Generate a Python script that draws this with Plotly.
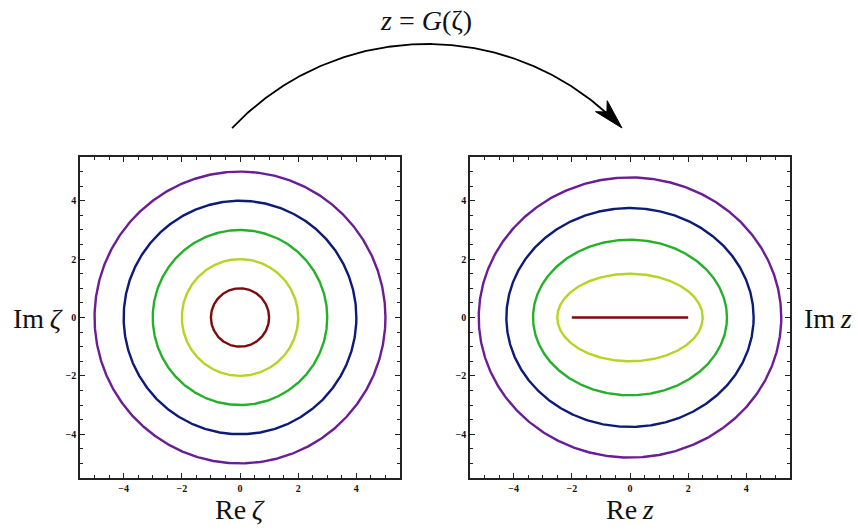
import numpy as np
import plotly.graph_objects as go

# ---- data ----
radii = [1, 2, 3, 4, 5]
colors = ["#7b0c0c", "#b4d523", "#25b02a", "#0c1a78", "#6b1d96"]
tick_vals = [-4, -2, 0, 2, 4]
tick_text = ["\u22124", "\u22122", "0", "2", "4"]
axis_range = [-5.5, 5.5]
map_label = "<i>z</i>\u2005=\u2005<i>G</i>(\u03b6)"

W, H = 858, 531
fig = go.Figure()

theta = np.linspace(0, 2 * np.pi, 721)
for r, c in zip(radii, colors):
    zeta = r * np.exp(1j * theta)
    z = zeta + 1 / zeta  # Joukowski map G
    fig.add_trace(go.Scatter(x=zeta.real, y=zeta.imag, mode="lines",
                             line=dict(color=c, width=2.4), xaxis="x", yaxis="y",
                             hoverinfo="skip", showlegend=False))
    fig.add_trace(go.Scatter(x=z.real, y=z.imag, mode="lines",
                             line=dict(color=c, width=2.4), xaxis="x2", yaxis="y2",
                             hoverinfo="skip", showlegend=False))

# ---- curved arrow in pixel space (overlay axis) ----
cx, cy, R = 427.0, 312.0, 268.0
a0 = np.arctan2(128 - cy, 232 - cx)
tip = np.array([622.0, 128.0])
a_tip = np.arctan2(tip[1] - cy, tip[0] - cx)
a1 = a_tip - 0.075  # stop arc before the head
ang = np.linspace(a0, a1, 200)
fig.add_trace(go.Scatter(x=cx + R * np.cos(ang), y=cy + R * np.sin(ang), mode="lines",
                         line=dict(color="black", width=1.8), xaxis="x3", yaxis="y3",
                         hoverinfo="skip", showlegend=False))
# arrowhead (stealth)
tdir = np.array([-np.sin(a_tip), np.cos(a_tip)])
tdir = -tdir if tdir[0] < 0 else tdir
nrm = np.array([-tdir[1], tdir[0]])
L, hw, notch = 30.0, 8.0, 22.0
back = tip - L * tdir
p1 = back + hw * nrm
p2 = back - hw * nrm
pn = tip - notch * tdir
path = (f"M {tip[0]},{tip[1]} L {p1[0]},{p1[1]} L {pn[0]},{pn[1]} "
        f"L {p2[0]},{p2[1]} Z")
fig.add_shape(type="path", path=path, xref="x3", yref="y3",
              fillcolor="black", line=dict(color="black", width=1))

dom_y = [1 - 478 / H, 1 - 157 / H]
axis_common = dict(
    range=axis_range, tickmode="array", tickvals=tick_vals, ticktext=tick_text,
    ticks="inside", ticklen=5, tickwidth=1.2, tickcolor="#222",
    minor=dict(ticks="inside", ticklen=3, tickmode="linear", tick0=0, dtick=0.5,
               tickwidth=1, tickcolor="#222", showgrid=False),
    showgrid=False, zeroline=False, showline=True, linecolor="#222", linewidth=1.5,
    mirror="allticks",
    tickfont=dict(family="Liberation Serif", size=10, color="#111", weight="bold"),
)

fig.update_layout(
    width=W, height=H, margin=dict(l=0, r=0, t=0, b=0),
    paper_bgcolor="white", plot_bgcolor="rgba(0,0,0,0)",
    xaxis=dict(domain=[80 / W, 400 / W], anchor="y", **axis_common),
    yaxis=dict(domain=dom_y, anchor="x", **axis_common),
    xaxis2=dict(domain=[470 / W, 790 / W], anchor="y2", **axis_common),
    yaxis2=dict(domain=dom_y, anchor="x2", **axis_common),
    xaxis3=dict(domain=[0, 1], range=[0, W], visible=False, anchor="y3", fixedrange=True),
    yaxis3=dict(domain=[0, 1], range=[H, 0], visible=False, anchor="x3", fixedrange=True),
)

serif = dict(family="Liberation Serif", size=28, color="#111")
labels = [
    ("Re\u2009<i>\u03b6</i>", 240, 509),
    ("Im\u2009<i>\u03b6</i>", 38, 318),
    ("Re\u2009<i>z</i>", 630, 509),
    ("Im\u2009<i>z</i>", 828, 318),
]
for txt, x, y in labels:
    fig.add_annotation(text=txt, x=x / W, y=1 - y / H, xref="paper", yref="paper",
                       showarrow=False, font=serif, xanchor="center", yanchor="middle")
fig.add_annotation(text=map_label, x=426 / W, y=1 - 21 / H, xref="paper", yref="paper",
                   showarrow=False, font=dict(family="Liberation Serif", size=28, color="#111"),
                   xanchor="center", yanchor="middle")

fig.write_html("out.html", config={"displayModeBar": False},
               post_script="document.body.style.margin='0';")
